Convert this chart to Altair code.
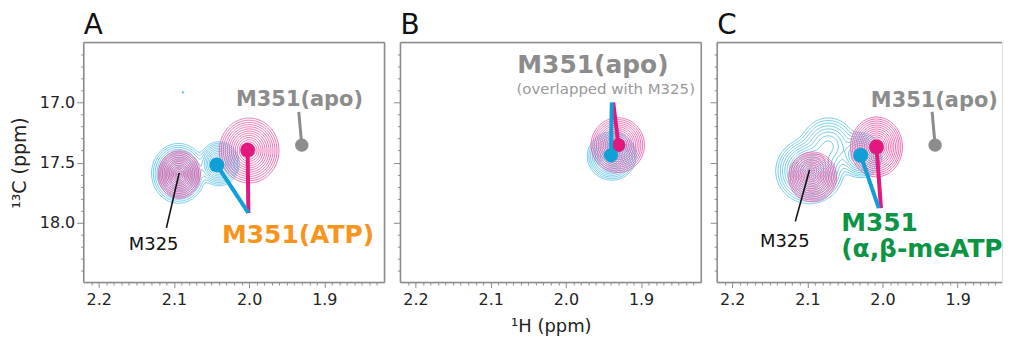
import altair as alt
import numpy as np
import pandas as pd

# ---------------- axes ----------------
X_DOMAIN = [1.82, 2.22]
X_DOMAIN_C = [1.841, 2.22]          # right panel is cut at the picture's edge
Y_DOMAIN = [16.5, 18.5]
X_TICKS = [round(1.83 + 0.01 * i, 2) for i in range(39)]
X_MAJOR_LABELS = ["2.2", "2.1", "2.0", "1.9"]
Y_TICKS = [round(16.6 + 0.1 * i, 1) for i in range(19)]
Y_MAJOR_LABELS = ["17.0", "17.5", "18.0"]

# contour levels (relative intensity)
LEVELS = [0.0111, 0.0198, 0.034, 0.056, 0.089, 0.135, 0.198, 0.278, 0.375,
          0.487, 0.607, 0.726, 0.835, 0.923, 0.98]

# ---------------- peaks (1H ppm, 13C ppm, width 1H, width 13C, intensity) ----------------
A_CYAN_X = [2.094, 2.040]
A_CYAN_Y = [17.59, 17.51]
A_CYAN_SX = [0.0119, 0.0092]
A_CYAN_SY = [0.083, 0.063]
A_CYAN_AMP = [1.0, 0.75]

A_MAG_X = [2.093, 2.000]
A_MAG_Y = [17.60, 17.40]
A_MAG_SX = [0.0093, 0.0132]
A_MAG_SY = [0.066, 0.090]
A_MAG_AMP = [1.0, 1.0]

B_CYAN_X = [1.939]
B_CYAN_Y = [17.446]
B_CYAN_SX = [0.0108]
B_CYAN_SY = [0.067]
B_CYAN_AMP = [1.0]

B_MAG_X = [1.931]
B_MAG_Y = [17.355]
B_MAG_SX = [0.0118]
B_MAG_SY = [0.076]
B_MAG_AMP = [1.0]

C_CYAN_X = [2.097, 2.072, 2.029]
C_CYAN_Y = [17.57, 17.36, 17.44]
C_CYAN_SX = [0.0150, 0.0140, 0.0100]
C_CYAN_SY = [0.091, 0.090, 0.066]
C_CYAN_AMP = [1.0, 0.3, 0.6]

C_MAG_X = [2.093, 2.008]
C_MAG_Y = [17.62, 17.37]
C_MAG_SX = [0.0106, 0.0115]
C_MAG_SY = [0.069, 0.083]
C_MAG_AMP = [1.0, 1.0]

# ---------------- pins: (peak x, peak y, line end x, line end y) ----------------
A_PIN_MAG = [2.002, 17.396, 2.001, 17.92]
A_PIN_CYAN = [2.043, 17.52, 2.001, 17.92]
A_PIN_GRAY = [1.930, 17.355, 1.934, 17.078]
A_PIN_M325 = [2.093, 17.586, 2.110, 18.044]

B_PIN_MAG = [1.930, 17.355, 1.937, 17.0]
B_PIN_CYAN = [1.940, 17.44, 1.939, 17.0]

C_PIN_MAG = [2.008, 17.37, 2.002, 17.88]
C_PIN_CYAN = [2.029, 17.44, 2.005, 17.88]
C_PIN_GRAY = [1.930, 17.355, 1.934, 17.078]
C_PIN_M325 = [2.097, 17.56, 2.116, 17.99]

A_STRAY_DOT = [2.088, 16.915]

# ---------------- labels: (text, x, y) ----------------
A_LABELS = [("M351(apo)", 1.933, 17.03), ("M351(ATP)", 1.935, 18.169), ("M325", 2.127, 18.227)]
B_LABELS = [("M351(apo)", 1.964, 16.757), ("(overlapped with M325)", 1.947, 16.93)]
C_LABELS = [("M351(apo)", 1.931, 17.04), ("M325", 2.130, 18.20),
            ("M351", 2.055, 18.07), ("(\u03b1,\u03b2-meATP)", 2.055, 18.29)]

CYAN_LINE = "#45b8e6"
MAG_LINE = "#e8469a"
CYAN_PIN = "#119fd8"
MAG_PIN = "#e2187f"
GRAY = "#8c8c8c"
FRAME = "#8a8a8a"
ORANGE = "#f7941d"
GREEN = "#0b9444"
FONT = "DejaVu Sans"

W, H = 302, 241
W_C = 286

# ---------------- contour tracing ----------------
XG = np.linspace(X_DOMAIN[0], X_DOMAIN[1], 300)
YG = np.linspace(Y_DOMAIN[0], Y_DOMAIN[1], 240)

CASES = {1: [(0, 3)], 2: [(0, 1)], 3: [(1, 3)], 4: [(1, 2)], 5: [(0, 3), (1, 2)],
         6: [(0, 2)], 7: [(2, 3)], 8: [(2, 3)], 9: [(0, 2)], 10: [(0, 1), (2, 3)],
         11: [(1, 2)], 12: [(1, 3)], 13: [(0, 1)], 14: [(0, 3)]}


def build_field(xs, ys, sxs, sys_, amps):
    X, Y = np.meshgrid(XG, YG)
    F = np.zeros_like(X)
    for cx, cy, sx, sy, a in zip(xs, ys, sxs, sys_, amps):
        F += a * np.exp(-0.5 * ((X - cx) / sx) ** 2 - 0.5 * ((Y - cy) / sy) ** 2)
    return F


def contour_rows(F, tag):
    rows = []
    for lv in LEVELS:
        b = (F > lv).astype(int)
        case = b[:-1, :-1] + 2 * b[:-1, 1:] + 4 * b[1:, 1:] + 8 * b[1:, :-1]
        ii, jj = np.nonzero((case > 0) & (case < 15))
        adj = {}

        def ekey(e, i, j):
            return [("h", i, j), ("v", i, j + 1), ("h", i + 1, j), ("v", i, j)][e]

        for i, j in zip(ii.tolist(), jj.tolist()):
            for e1, e2 in CASES[int(case[i, j])]:
                k1, k2 = ekey(e1, i, j), ekey(e2, i, j)
                adj.setdefault(k1, []).append(k2)
                adj.setdefault(k2, []).append(k1)

        def coord(k):
            t, i, j = k
            if t == "h":
                v1, v2 = F[i, j], F[i, j + 1]
                f = (lv - v1) / (v2 - v1)
                return XG[j] + f * (XG[j + 1] - XG[j]), YG[i]
            v1, v2 = F[i, j], F[i + 1, j]
            f = (lv - v1) / (v2 - v1)
            return XG[j], YG[i] + f * (YG[i + 1] - YG[i])

        visited = set()
        starts = [k for k, v in adj.items() if len(v) == 1] + list(adj.keys())
        n = 0
        for s in starts:
            if s in visited:
                continue
            path = [s]
            visited.add(s)
            cur = s
            while True:
                nxt = [q for q in adj[cur] if q not in visited]
                if not nxt:
                    if len(path) > 2 and s in adj[cur]:
                        path.append(s)
                    break
                cur = nxt[0]
                visited.add(cur)
                path.append(cur)
            for idx, key in enumerate(path):
                x, y = coord(key)
                rows.append({"x": round(float(x), 5), "y": round(float(y), 4),
                             "path": f"{tag}-{lv}-{n}", "k": idx})
            n += 1
    return pd.DataFrame(rows)


# ---------------- axes helpers ----------------
MAJOR_X_TEST = "abs(datum.value*10 - round(datum.value*10)) < 0.001"
MAJOR_Y_TEST = "abs(datum.value*2 - round(datum.value*2)) < 0.001"


def x_axis(title, ticks):
    return alt.Axis(
        values=ticks,
        labelExpr=f"indexof({X_MAJOR_LABELS}, format(datum.value, '.1f')) >= 0 && {MAJOR_X_TEST} ? format(datum.value, '.1f') : ''",
        tickSize={"condition": {"test": MAJOR_X_TEST, "value": 5}, "value": 2.5},
        tickColor=FRAME, tickWidth=1, domain=False, grid=False,
        labelFont=FONT, labelFontSize=16, labelColor="#222", labelPadding=4,
        labelOverlap=False, labelFlush=False, labelBound=False,
        title=title, titleFont=FONT, titleFontSize=18, titleFontWeight="normal",
        titleColor="#222", titlePadding=10,
    )


def y_axis(show):
    kw = dict(
        values=Y_TICKS,
        tickSize={"condition": {"test": MAJOR_Y_TEST, "value": 7}, "value": 3},
        tickColor=FRAME, tickWidth=1, domain=False, grid=False,
    )
    if show:
        kw.update(
            labelExpr=f"indexof({Y_MAJOR_LABELS}, format(datum.value, '.1f')) >= 0 && {MAJOR_Y_TEST} ? format(datum.value, '.1f') : ''",
            labelFont=FONT, labelFontSize=16, labelColor="#222", labelPadding=2,
            labelOverlap=False, labelFlush=False, labelBound=False,
            title="\u00b9\u00b3C (ppm)", titleFont=FONT, titleFontSize=19,
            titleFontWeight="normal", titleColor="#222", titlePadding=10,
        )
    else:
        kw.update(labels=False, title=None)
    return alt.Axis(**kw)


def panel(letter, cyan, mag, pins, labels, label_styles, show_y, xtitle,
          extra_dots=None, width=W, xdom=X_DOMAIN, open_right=False):
    xs = alt.Scale(domain=xdom, reverse=True, nice=False, zero=False)
    ys = alt.Scale(domain=Y_DOMAIN, reverse=True, nice=False, zero=False)
    ticks = [t for t in X_TICKS if xdom[0] < t < xdom[1]]
    xa = x_axis(xtitle, ticks)
    ya = y_axis(show_y)
    px_per_ppm = width / (xdom[1] - xdom[0])

    def X(f="x"):
        return alt.X(f"{f}:Q", scale=xs, axis=xa)

    def Y(f="y"):
        return alt.Y(f"{f}:Q", scale=ys, axis=ya)

    layers = []
    for peaks, col, tag in [(cyan, CYAN_LINE, "c"), (mag, MAG_LINE, "m")]:
        df = contour_rows(build_field(*peaks), tag)
        layers.append(
            alt.Chart(df).mark_line(color=col, strokeWidth=0.8, opacity=0.95, clip=True)
            .encode(x=X(), y=Y(), detail="path:N", order="k:Q")
        )
    if extra_dots:
        d = pd.DataFrame({"x": [extra_dots[0]], "y": [extra_dots[1]]})
        layers.append(alt.Chart(d).mark_circle(size=5, color=CYAN_LINE, opacity=1).encode(x=X(), y=Y()))
    for pin, col, width_, size in pins:
        d = pd.DataFrame({"x": [pin[0]], "y": [pin[1]], "x2": [pin[2]], "y2": [pin[3]]})
        layers.append(
            alt.Chart(d).mark_rule(color=col, strokeWidth=width_)
            .encode(x=X(), y=Y(), x2="x2:Q", y2="y2:Q")
        )
        if size > 0:
            layers.append(
                alt.Chart(d).mark_circle(color=col, size=size, opacity=1).encode(x=X(), y=Y())
            )
    for (txt, tx, ty), st in zip(labels, label_styles):
        d = pd.DataFrame({"x": [tx], "y": [ty], "t": [txt]})
        extra = {}
        if open_right and st.get("align") == "left":
            # text runs into the picture's right edge: cut it there
            extra = dict(limit=int((tx - xdom[0]) * px_per_ppm) + 8, ellipsis="\u200b")
        layers.append(
            alt.Chart(d).mark_text(font=FONT, baseline="alphabetic", **st, **extra)
            .encode(x=X(), y=Y(), text="t:N")
        )
    # frame
    one = pd.DataFrame({"a": [0]})
    fr = alt.Chart(one).mark_rule(color=FRAME, strokeWidth=1.5)
    layers += [
        fr.encode(x=alt.value(0), x2=alt.value(width), y=alt.value(0)),
        fr.encode(x=alt.value(0), x2=alt.value(width), y=alt.value(H)),
        fr.encode(x=alt.value(0), y=alt.value(0), y2=alt.value(H)),
    ]
    if not open_right:
        layers.append(fr.encode(x=alt.value(width), y=alt.value(0), y2=alt.value(H)))
    return alt.layer(*layers).properties(
        width=width, height=H,
        title=alt.TitleParams(letter, anchor="start", frame="group", font=FONT, fontSize=28,
                              fontWeight="normal", color="#111", offset=2),
    )


BOLD_GRAY_S = dict(color=GRAY, fontSize=21, fontWeight="bold", align="center")
BOLD_GRAY_L = dict(color=GRAY, fontSize=25, fontWeight="bold", align="center")
M325_S = dict(color="#111", fontSize=18, fontWeight="normal", align="center")

pa = panel(
    "A",
    (A_CYAN_X, A_CYAN_Y, A_CYAN_SX, A_CYAN_SY, A_CYAN_AMP),
    (A_MAG_X, A_MAG_Y, A_MAG_SX, A_MAG_SY, A_MAG_AMP),
    [(A_PIN_M325, "#111", 1.6, 0), (A_PIN_GRAY, GRAY, 3, 180),
     (A_PIN_MAG, MAG_PIN, 4, 220), (A_PIN_CYAN, CYAN_PIN, 4, 220)],
    A_LABELS,
    [BOLD_GRAY_S, dict(color=ORANGE, fontSize=25, fontWeight="bold", align="center"), M325_S],
    True, None, A_STRAY_DOT,
)
pb = panel(
    "B",
    (B_CYAN_X, B_CYAN_Y, B_CYAN_SX, B_CYAN_SY, B_CYAN_AMP),
    (B_MAG_X, B_MAG_Y, B_MAG_SX, B_MAG_SY, B_MAG_AMP),
    [(B_PIN_MAG, MAG_PIN, 4, 190), (B_PIN_CYAN, CYAN_PIN, 4, 200)],
    B_LABELS,
    [BOLD_GRAY_L, dict(color="#999999", fontSize=15, fontWeight="normal", align="center")],
    False, "\u00b9H (ppm)",
)
pc = panel(
    "C",
    (C_CYAN_X, C_CYAN_Y, C_CYAN_SX, C_CYAN_SY, C_CYAN_AMP),
    (C_MAG_X, C_MAG_Y, C_MAG_SX, C_MAG_SY, C_MAG_AMP),
    [(C_PIN_M325, "#111", 1.6, 0), (C_PIN_GRAY, GRAY, 3, 180),
     (C_PIN_MAG, MAG_PIN, 4, 220), (C_PIN_CYAN, CYAN_PIN, 4, 220)],
    C_LABELS,
    [BOLD_GRAY_S, M325_S,
     dict(color=GREEN, fontSize=25, fontWeight="bold", align="left"),
     dict(color=GREEN, fontSize=25, fontWeight="bold", align="left")],
    False, None, width=W_C, xdom=X_DOMAIN_C, open_right=True,
)

chart = (
    alt.hconcat(pa, pb, pc, spacing=16, bounds="flush")
    .properties(padding={"left": 1, "top": 2, "right": 0, "bottom": 0})
    .configure_view(stroke="transparent", strokeWidth=0)
    .configure(background="white")
)

chart.save("out.html", embed_options={"renderer": "svg", "actions": False})
